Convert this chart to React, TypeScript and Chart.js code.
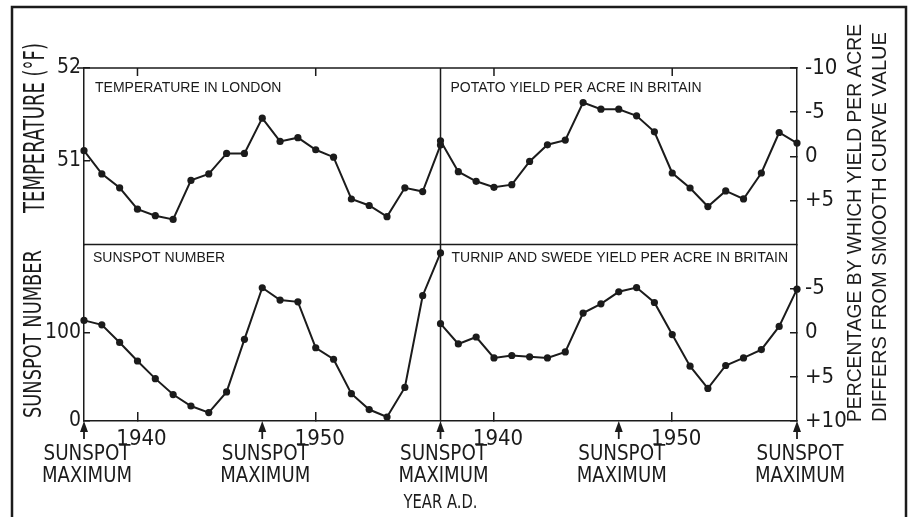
import { useEffect, useRef } from 'react';
import { Chart, registerables } from 'chart.js';

Chart.register(...registerables);

// ---- data ----
const years = [1937, 1938, 1939, 1940, 1941, 1942, 1943, 1944, 1945, 1946, 1947, 1948, 1949, 1950, 1951, 1952, 1953, 1954, 1955, 1956, 1957];
const temperatureLondon = [51.11, 50.86, 50.71, 50.48, 50.41, 50.37, 50.79, 50.86, 51.08, 51.08, 51.46, 51.21, 51.25, 51.12, 51.04, 50.59, 50.52, 50.4, 50.71, 50.67, 51.17];
const potatoYield = [-1.75, 1.75, 2.84, 3.52, 3.22, 0.59, -1.3, -1.83, -6.08, -5.33, -5.33, -4.58, -2.77, 1.9, 3.6, 5.7, 3.93, 4.84, 1.9, -2.69, -1.49];
const sunspotNumber = [114, 109, 89, 68, 48, 30, 17, 9.5, 33, 92.5, 151, 137, 135, 83, 70, 31, 13, 4.5, 38, 142, 190.5];
const turnipYield = [-1.03, 1.27, 0.48, 2.85, 2.58, 2.73, 2.85, 2.17, -2.23, -3.28, -4.64, -5.12, -3.43, 0.21, 3.79, 6.31, 3.71, 2.85, 1.91, -0.72, -4.94];

const yearTicks = [1940, 1950];
const sunspotMaxima = [1937, 1947, 1957];
const temperatureTicks = [51, 52];
const sunspotTicks = [0, 100];
const potatoTicks = [-10, -5, 0, 5];
const turnipTicks = [-5, 0, 5, 10];

const panelTitles = {
  temperature: 'TEMPERATURE IN LONDON',
  potato: 'POTATO YIELD PER ACRE IN BRITAIN',
  sunspot: 'SUNSPOT NUMBER',
  turnip: 'TURNIP AND SWEDE YIELD PER ACRE IN BRITAIN',
};

const INK = '#1b1b1b';
const NARROW = "'Liberation Sans Narrow', 'DejaVu Sans Condensed', 'Liberation Sans', sans-serif";
const SANS = "'Liberation Sans', Arial, sans-serif";

function pts(vals: number[]) {
  return years.map((x, i) => ({ x, y: vals[i] }));
}

function drawFitted(ctx: CanvasRenderingContext2D, text: string, x: number, y: number, font: string, width: number, align: CanvasTextAlign, rot = 0) {
  ctx.save();
  ctx.translate(x, y);
  ctx.rotate(rot);
  ctx.font = font;
  const w = ctx.measureText(text).width;
  ctx.scale(width / w, 1);
  ctx.textAlign = align;
  ctx.textBaseline = 'middle';
  ctx.fillStyle = INK;
  ctx.fillText(text, 0, 0);
  ctx.restore();
}

const decorPlugin = {
  id: 'decor',
  afterDraw(chart: any) {
    const ctx: CanvasRenderingContext2D = chart.ctx;
    const ca = chart.chartArea;
    const s = chart.scales;
    ctx.save();
    ctx.strokeStyle = INK;
    ctx.fillStyle = INK;

    // outer frame
    ctx.lineWidth = 2.5;
    ctx.strokeRect(12, 7, 894, 540);

    // panel frame lines
    ctx.lineWidth = 1.5;
    ctx.beginPath();
    ctx.moveTo(ca.left - 7, ca.top);
    ctx.lineTo(ca.right, ca.top);
    const midY = s.yTL.bottom;
    ctx.moveTo(ca.left, midY);
    ctx.lineTo(ca.right, midY);
    const midX = s.xL.right;
    ctx.moveTo(midX, ca.top);
    ctx.lineTo(midX, ca.bottom);
    ctx.stroke();

    // top tick marks
    ctx.beginPath();
    for (const id of ['xL', 'xR']) {
      for (const yv of yearTicks) {
        const px = s[id].getPixelForValue(yv);
        ctx.moveTo(px, ca.top);
        ctx.lineTo(px, ca.top + 8);
      }
    }
    ctx.stroke();

    // panel titles
    ctx.font = `14px ${SANS}`;
    ctx.textBaseline = 'middle';
    ctx.textAlign = 'left';
    ctx.fillText(panelTitles.temperature, s.xL.left + 11, ca.top + 20);
    ctx.fillText(panelTitles.potato, s.xR.left + 10, ca.top + 20);
    ctx.fillText(panelTitles.sunspot, s.xL.left + 9, midY + 14);
    ctx.fillText(panelTitles.turnip, s.xR.left + 11, midY + 14);

    // axis titles
    drawFitted(ctx, 'TEMPERATURE (°F)', 37, 213, `28px ${NARROW}`, 170, 'left', -Math.PI / 2);
    drawFitted(ctx, 'SUNSPOT NUMBER', 35, 418, `24px ${NARROW}`, 168, 'left', -Math.PI / 2);
    drawFitted(ctx, 'PERCENTAGE BY WHICH YIELD PER ACRE', 855, 422, `20px ${SANS}`, 398, 'left', -Math.PI / 2);
    drawFitted(ctx, 'DIFFERS FROM SMOOTH CURVE VALUE', 880, 422, `20px ${SANS}`, 390, 'left', -Math.PI / 2);

    // sunspot maximum arrows + labels
    const done: number[] = [];
    for (const id of ['xL', 'xR']) {
      for (const yv of sunspotMaxima) {
        const px = s[id].getPixelForValue(yv);
        if (done.some((d) => Math.abs(d - px) < 2)) continue;
        done.push(px);
        const by = ca.bottom;
        ctx.lineWidth = 1.8;
        ctx.beginPath();
        ctx.moveTo(px, by + 6);
        ctx.lineTo(px, by + 18);
        ctx.stroke();
        ctx.beginPath();
        ctx.moveTo(px, by);
        ctx.lineTo(px - 4, by + 11);
        ctx.lineTo(px + 4, by + 11);
        ctx.closePath();
        ctx.fill();
        drawFitted(ctx, 'SUNSPOT', px + 3, by + 34, `21px ${NARROW}`, 87, 'center');
        drawFitted(ctx, 'MAXIMUM', px + 3, by + 56, `21px ${NARROW}`, 90, 'center');
      }
    }
    drawFitted(ctx, 'YEAR A.D.', midX, 503, `20px ${NARROW}`, 74, 'center');
    ctx.restore();
  },
};

function yearAxis() {
  return {
    type: 'linear',
    position: 'bottom',
    stack: 'years',
    stackWeight: 1,
    min: 1937,
    max: 1957,
    afterBuildTicks: (a: any) => { a.ticks = yearTicks.map((value) => ({ value })); },
    afterFit: (a: any) => { a.height = 96; },
    grid: { drawOnChartArea: false, tickLength: -9, color: INK, lineWidth: 1.5 },
    border: { color: INK, width: 1.5 },
    ticks: { color: INK, padding: 14, labelOffset: 4, font: { family: NARROW, size: 22 }, callback: (v: any) => String(v) },
  };
}

function valueAxis(position: string, min: number, max: number, tickList: number[], reverse: boolean) {
  const right = position === 'right';
  return {
    type: 'linear',
    position,
    stack: position,
    stackWeight: 1,
    min,
    max,
    reverse,
    afterBuildTicks: (a: any) => { a.ticks = tickList.map((value) => ({ value })); },
    afterFit: (a: any) => { a.width = right ? 114 : 84; },
    grid: { drawOnChartArea: false, tickLength: right ? -7 : -6, color: INK, lineWidth: 1.5 },
    border: { color: INK, width: 1.5 },
    ticks: {
      color: INK,
      padding: right ? 15 : 9,
      font: { family: NARROW, size: right ? 22 : 21 },
      callback: (v: any) => (right && v > 0 ? '+' + v : String(v)),
    },
  };
}

export default function App() {
  const ref = useRef<HTMLCanvasElement | null>(null);
  useEffect(() => {
    if (!ref.current) return;
    const ds = (vals: number[], xAxisID: string, yAxisID: string) => ({
      data: pts(vals),
      xAxisID,
      yAxisID,
      borderColor: INK,
      backgroundColor: INK,
      borderWidth: 2,
      pointRadius: 3.6,
      pointBorderWidth: 0,
      pointBackgroundColor: INK,
      tension: 0,
      clip: false,
    });
    const chart = new Chart(ref.current, {
      type: 'line',
      data: {
        datasets: [
          ds(temperatureLondon, 'xL', 'yTL'),
          ds(potatoYield, 'xR', 'yTR'),
          ds(sunspotNumber, 'xL', 'yBL'),
          ds(turnipYield, 'xR', 'yBR'),
        ] as any,
      },
      options: {
        animation: false,
        responsive: false,
        devicePixelRatio: 1,
        layout: { padding: { left: 0, right: 0, top: 68, bottom: 0 } },
        plugins: { legend: { display: false }, tooltip: { enabled: false } },
        scales: {
          xL: yearAxis(),
          xR: yearAxis(),
          // left-side stacked axes are laid out last-defined-on-top
          yBL: valueAxis('left', 0, 200, sunspotTicks, false),
          yTL: valueAxis('left', 50.1, 52, temperatureTicks, false),
          yTR: valueAxis('right', -10, 10, potatoTicks, true),
          yBR: valueAxis('right', -10, 10, turnipTicks, true),
        } as any,
      },
      plugins: [decorPlugin],
    });
    return () => chart.destroy();
  }, []);
  return (
    <div style={{ position: 'fixed', left: 0, top: 0, width: 911, height: 517, background: '#fff' }}>
      <canvas ref={ref} width={911} height={517} style={{ display: 'block' }} />
    </div>
  );
}
